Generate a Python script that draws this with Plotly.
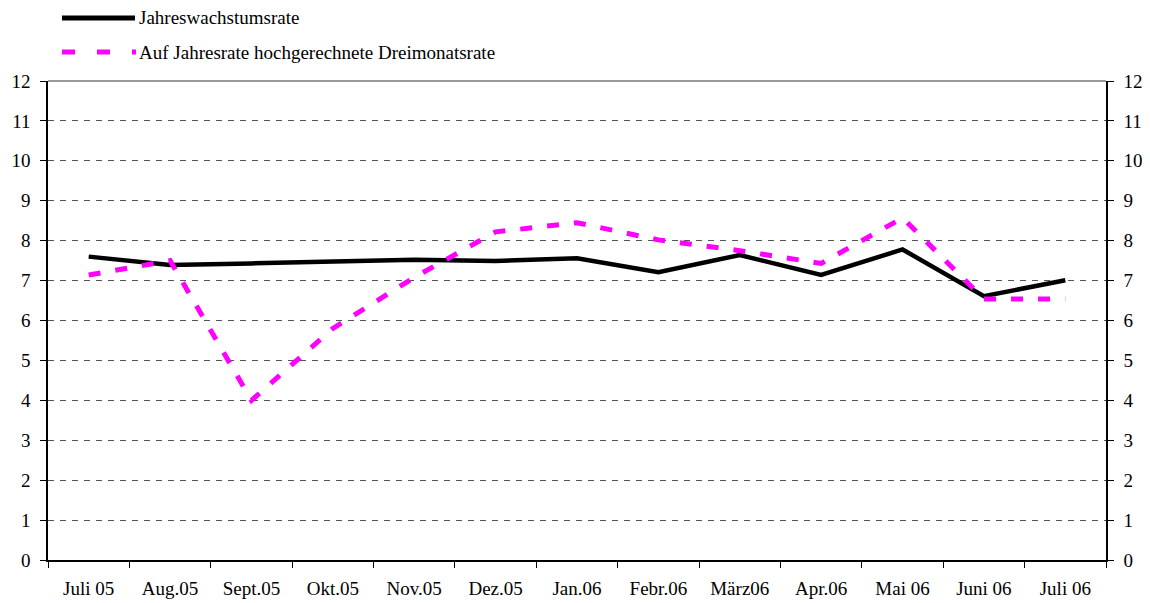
import plotly.graph_objects as go

months = ["Juli 05", "Aug.05", "Sept.05", "Okt.05", "Nov.05", "Dez.05", "Jan.06",
          "Febr.06", "März06", "Apr.06", "Mai 06", "Juni 06", "Juli 06"]
jahresrate = [7.60, 7.39, 7.43, 7.47, 7.52, 7.49, 7.56, 7.21, 7.64, 7.14, 7.78, 6.61, 7.01]
dreimonatsrate = [7.14, 7.50, 4.00, 5.80, 7.08, 8.22, 8.45, 8.02, 7.75, 7.43, 8.57, 6.54, 6.54]
y_ticks = list(range(0, 13))
series_names = ["Jahreswachstumsrate", "Auf Jahresrate hochgerechnete Dreimonatsrate"]

FONT = "Liberation Serif"
OFF = 8  # browser body margin
W, H = 1150 - OFF, 603 - OFF
L, R, T, B = 48 - OFF, 1106 - OFF, 81 - OFF, 560 - OFF

def px_x(p):
    return (p - OFF - L) / (R - L)

def px_y(p):
    return (B - (p - OFF)) / (B - T)

fig = go.Figure()
fig.add_trace(go.Scatter(x=months, y=jahresrate, mode="lines", name=series_names[0],
                         line=dict(color="black", width=4.5), showlegend=False))
fig.add_trace(go.Scatter(x=months, y=dreimonatsrate, mode="lines", name=series_names[1],
                         line=dict(color="#FF00FF", width=5, dash="12px,15px"), showlegend=False))
# invisible trace to activate right axis
fig.add_trace(go.Scatter(x=months, y=jahresrate, mode="lines", yaxis="y2",
                         line=dict(width=0), opacity=0, showlegend=False, hoverinfo="skip"))

axis_font = dict(family=FONT, size=19, color="black")
fig.update_layout(
    width=W, height=H,
    margin=dict(l=L, r=W - R, t=T, b=H - B, autoexpand=False),
    paper_bgcolor="white", plot_bgcolor="white",
    font=axis_font,
    xaxis=dict(type="category", range=[-0.5, 12.5], showgrid=False,
               showline=True, linecolor="black", linewidth=1.5,
               ticks="outside", ticklen=6, tickcolor="black", tickson="boundaries",
               tickfont=axis_font, ticklabelstandoff=10),
    yaxis=dict(range=[0, 12], tickvals=y_ticks, showline=True, linecolor="black", linewidth=1.5,
               ticks="outside", ticklen=6, tickcolor="black",
               showgrid=True, gridcolor="#555555", gridwidth=1, griddash="6px,6px",
               zeroline=False, tickfont=axis_font, ticklabelstandoff=6),
    yaxis2=dict(range=[0, 12], tickvals=y_ticks, overlaying="y", side="right",
                showline=True, linecolor="black", linewidth=1.5,
                ticks="outside", ticklen=6, tickcolor="black", showgrid=False,
                zeroline=False, tickfont=axis_font, ticklabelstandoff=6),
)

# top border (solid gray)
fig.add_shape(type="line", xref="paper", yref="paper", x0=0, x1=1, y0=1, y1=1,
              line=dict(color="#999999", width=2))

# manual legend
fig.add_shape(type="line", xref="paper", yref="paper",
              x0=px_x(62), x1=px_x(135), y0=px_y(18), y1=px_y(18),
              line=dict(color="black", width=5))
fig.add_shape(type="line", xref="paper", yref="paper",
              x0=px_x(62), x1=px_x(136), y0=px_y(52), y1=px_y(52),
              line=dict(color="#FF00FF", width=5, dash="13px,22px"))
for name, py in zip(series_names, [18, 52]):
    fig.add_annotation(text=name, xref="paper", yref="paper", x=px_x(137), y=px_y(py),
                       xanchor="left", yanchor="middle", showarrow=False,
                       font=dict(family=FONT, size=19, color="black"))

fig.write_html("out.html")
